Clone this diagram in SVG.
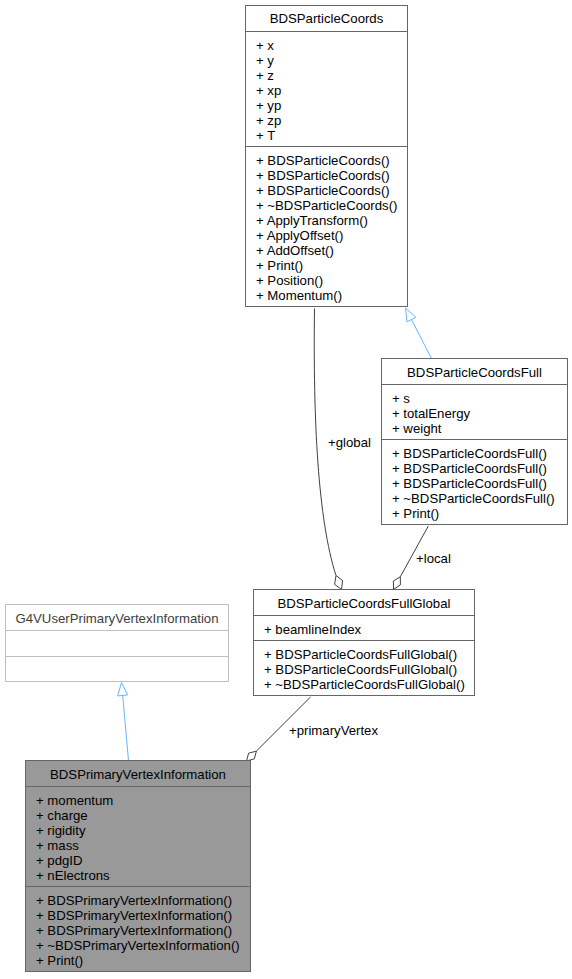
<svg xmlns="http://www.w3.org/2000/svg" width="572" height="979" viewBox="0 0 572 979">
<style>
text{font-family:"Liberation Sans",Arial,Helvetica,sans-serif;font-size:13.2px;fill:#000}
.c{text-anchor:middle}
.box{fill:#fff;stroke:#666;stroke-width:1}
.sep{stroke:#666;stroke-width:1}
.ext .box{stroke:#bfbfbf}
.ext .sep{stroke:#bfbfbf}
.ext text{fill:#404040}
.cur .box{fill:#999}
.agg{fill:none;stroke:#404040;stroke-width:1}
.aggh{fill:#fff;stroke:#404040;stroke-width:1}
.inh{fill:none;stroke:#63b8ff;stroke-width:1}
.inhh{fill:#fff;stroke:#63b8ff;stroke-width:1}
.lbl{font-size:13.2px}
</style>
<rect width="572" height="979" fill="#fff"/>
<g id="edges">
<path class="inh" d="M431.5,358.5 L411.45,319.56"/>
<polygon class="inhh" points="405.5,308 415.9,317.3 407,321.85"/>
<path class="inh" d="M128.5,760.5 L122.66,695.45"/>
<polygon class="inhh" points="121.5,682.5 127.6,695 117.7,695.9"/>
<path class="agg" d="M314.5,308.5 C313,420 318,520 336,575.5"/>
<polygon class="aggh" points="341.5,589.5 342.6,580.6 336,575.5 334.6,584.4"/>
<text class="lbl" x="328" y="446.5">+global</text>
<path class="agg" d="M428.3,526 L400.3,576.75"/>
<polygon class="aggh" points="393.5,589.5 400.4,584.8 400.3,576.75 393.4,581"/>
<text class="lbl" x="416" y="562.5">+local</text>
<path class="agg" d="M310.5,697 L256.4,751.1"/>
<polygon class="aggh" points="246.5,761 254.3,758.9 256.4,751.1 248.6,753.2"/>
<text class="lbl" x="289" y="734.5">+primaryVertex</text>
</g>
<g id="BDSParticleCoords">
<rect class="box" x="245.5" y="5.5" width="162" height="301"/>
<line class="sep" x1="245.5" y1="31.5" x2="407.5" y2="31.5"/>
<line class="sep" x1="245.5" y1="146.5" x2="407.5" y2="146.5"/>
<text class="c" x="326.5" y="23">BDSParticleCoords</text>
<text x="256" y="49.5">+ x</text>
<text x="256" y="64.5">+ y</text>
<text x="256" y="79.5">+ z</text>
<text x="256" y="94.5">+ xp</text>
<text x="256" y="109.5">+ yp</text>
<text x="256" y="124.5">+ zp</text>
<text x="256" y="139.5">+ T</text>
<text x="256" y="164.5">+ BDSParticleCoords()</text>
<text x="256" y="179.5">+ BDSParticleCoords()</text>
<text x="256" y="194.5">+ BDSParticleCoords()</text>
<text x="256" y="209.5">+ ~BDSParticleCoords()</text>
<text x="256" y="224.5">+ ApplyTransform()</text>
<text x="256" y="239.5">+ ApplyOffset()</text>
<text x="256" y="254.5">+ AddOffset()</text>
<text x="256" y="269.5">+ Print()</text>
<text x="256" y="284.5">+ Position()</text>
<text x="256" y="299.5">+ Momentum()</text>
</g>
<g id="BDSParticleCoordsFull">
<rect class="box" x="381.5" y="358.5" width="186" height="166"/>
<line class="sep" x1="381.5" y1="384.5" x2="567.5" y2="384.5"/>
<line class="sep" x1="381.5" y1="439.5" x2="567.5" y2="439.5"/>
<text class="c" x="474.5" y="376.5">BDSParticleCoordsFull</text>
<text x="392" y="402.5">+ s</text>
<text x="392" y="417.5">+ totalEnergy</text>
<text x="392" y="432.5">+ weight</text>
<text x="392" y="457.5">+ BDSParticleCoordsFull()</text>
<text x="392" y="472.5">+ BDSParticleCoordsFull()</text>
<text x="392" y="487.5">+ BDSParticleCoordsFull()</text>
<text x="392" y="502.5">+ ~BDSParticleCoordsFull()</text>
<text x="392" y="517.5">+ Print()</text>
</g>
<g id="BDSParticleCoordsFullGlobal">
<rect class="box" x="253.5" y="589.5" width="221" height="106"/>
<line class="sep" x1="253.5" y1="615.5" x2="474.5" y2="615.5"/>
<line class="sep" x1="253.5" y1="640.5" x2="474.5" y2="640.5"/>
<text class="c" x="364" y="607.5">BDSParticleCoordsFullGlobal</text>
<text x="264" y="633.5">+ beamlineIndex</text>
<text x="264" y="658.5">+ BDSParticleCoordsFullGlobal()</text>
<text x="264" y="673.5">+ BDSParticleCoordsFullGlobal()</text>
<text x="264" y="688.5">+ ~BDSParticleCoordsFullGlobal()</text>
</g>
<g id="G4VUserPrimaryVertexInformation" class="ext">
<rect class="box" x="5.5" y="604.5" width="223" height="77"/>
<line class="sep" x1="5.5" y1="630.5" x2="228.5" y2="630.5"/>
<line class="sep" x1="5.5" y1="656.5" x2="228.5" y2="656.5"/>
<text class="c" x="117" y="622.5">G4VUserPrimaryVertexInformation</text>
</g>
<g id="BDSPrimaryVertexInformation" class="cur">
<rect class="box" x="25.5" y="760.5" width="225" height="211"/>
<line class="sep" x1="25.5" y1="786.5" x2="250.5" y2="786.5"/>
<line class="sep" x1="25.5" y1="886.5" x2="250.5" y2="886.5"/>
<text class="c" x="138" y="778.5">BDSPrimaryVertexInformation</text>
<text x="36" y="804.5">+ momentum</text>
<text x="36" y="819.5">+ charge</text>
<text x="36" y="834.5">+ rigidity</text>
<text x="36" y="849.5">+ mass</text>
<text x="36" y="864.5">+ pdgID</text>
<text x="36" y="879.5">+ nElectrons</text>
<text x="36" y="904.5">+ BDSPrimaryVertexInformation()</text>
<text x="36" y="919.5">+ BDSPrimaryVertexInformation()</text>
<text x="36" y="934.5">+ BDSPrimaryVertexInformation()</text>
<text x="36" y="949.5">+ ~BDSPrimaryVertexInformation()</text>
<text x="36" y="964.5">+ Print()</text>
</g>
</svg>
